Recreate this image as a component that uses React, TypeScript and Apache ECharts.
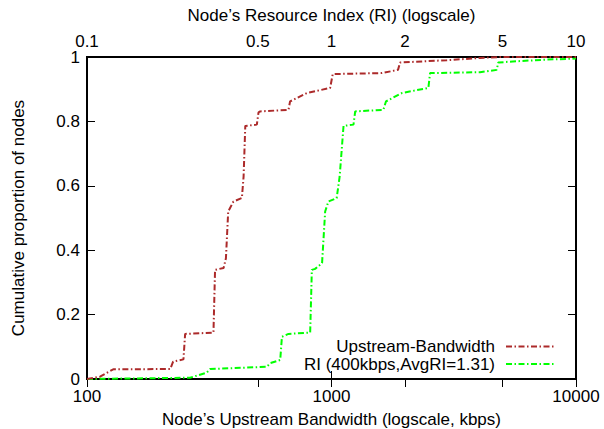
import React, { useEffect, useRef } from "react";
import * as echarts from "echarts";

// Empirical CDF of node upstream bandwidth (kbps) — polyline vertices
const bandwidthKbps = [
  100, 113, 128, 219, 225, 248, 252, 329, 334, 362, 370, 378, 397, 430, 437,
  444, 495, 503, 511, 667, 677, 793, 987, 1012, 1606, 1871, 1907, 2960, 4050,
  4890, 10000,
];
const bandwidthCdf = [
  0, 0.007, 0.03, 0.031, 0.054, 0.061, 0.14, 0.144, 0.339, 0.345, 0.375, 0.52,
  0.551, 0.562, 0.629, 0.786, 0.79, 0.828, 0.831, 0.836, 0.862, 0.888, 0.904,
  0.947, 0.95, 0.96, 0.983, 0.99, 0.997, 1, 1,
];

// Empirical CDF of the resource index (RI)
const resourceIndex = [
  0.1, 0.264, 0.309, 0.319, 0.544, 0.561, 0.617, 0.627, 0.667, 0.818, 0.831,
  0.857, 0.915, 0.942, 0.971, 1.05, 1.08, 1.12, 1.23, 1.25, 1.63, 1.67, 1.94,
  2.49, 2.53, 4.05, 4.74, 4.81, 5.52, 7.59, 10,
];
const resourceCdf = [
  0, 0.004, 0.02, 0.031, 0.038, 0.049, 0.059, 0.131, 0.14, 0.144, 0.339,
  0.342, 0.36, 0.52, 0.551, 0.562, 0.629, 0.786, 0.79, 0.831, 0.836, 0.862,
  0.888, 0.904, 0.95, 0.953, 0.96, 0.983, 0.986, 0.992, 0.995,
];

const riTicks = [0.1, 0.5, 1, 2, 5, 10];
const seriesNames = ["Upstream-Bandwidth", "RI (400kbps,AvgRI=1.31)"];
const seriesColors = ["#ac2a2a", "#00ff00"];

const FONT = "Liberation Sans, Arial, Helvetica, sans-serif";
const FONT_SIZE = 17;
const DASH = [6, 2.5, 1.5, 2.5];

export default function App() {
  const ref = useRef<HTMLDivElement>(null);

  useEffect(() => {
    if (!ref.current) return;
    const chart = echarts.init(ref.current, null, { renderer: "svg" });

    const textStyle = { color: "#000", fontFamily: FONT, fontSize: FONT_SIZE };
    const tickIn = { show: true, inside: true, length: 8, lineStyle: { color: "#000", width: 1 } };
    const plain = (v: number) => String(v);

    const legendY = [346.5, 364];

    chart.setOption({
      animation: false,
      backgroundColor: "#fff",
      grid: {
        left: 87,
        right: 28,
        top: 57,
        bottom: 50,
        outerBoundsMode: "none",
        show: true,
        borderColor: "#000",
        borderWidth: 2,
        backgroundColor: "transparent",
      },
      xAxis: [
        {
          type: "log",
          logBase: 10,
          min: 100,
          max: 10000,
          position: "bottom",
          axisLine: { show: false },
          axisTick: tickIn,
          minorTick: { show: false },
          splitLine: { show: false },
          axisLabel: { ...textStyle, margin: 9, formatter: plain },
          name: "Node\u2019s Upstream Bandwidth (logscale, kbps)",
          nameLocation: "middle",
          nameGap: 32,
          nameTextStyle: textStyle,
        },
        {
          type: "log",
          logBase: 10,
          min: 0.1,
          max: 10,
          position: "top",
          axisLine: { show: false },
          axisTick: { ...tickIn, customValues: riTicks },
          minorTick: { show: false },
          splitLine: { show: false },
          axisLabel: { ...textStyle, margin: 7, customValues: riTicks, formatter: plain },
          name: "Node\u2019s Resource Index (RI) (logscale)",
          nameLocation: "middle",
          nameGap: 33,
          nameTextStyle: textStyle,
        },
      ],
      yAxis: [
        {
          type: "value",
          min: 0,
          max: 1,
          interval: 0.2,
          position: "left",
          axisLine: { show: false },
          axisTick: tickIn,
          splitLine: { show: false },
          axisLabel: { ...textStyle, margin: 7 },
          name: "Cumulative proportion of nodes",
          nameLocation: "middle",
          nameGap: 60,
          nameTextStyle: textStyle,
        },
        {
          type: "value",
          min: 0,
          max: 1,
          interval: 0.2,
          position: "right",
          axisLine: { show: false },
          axisTick: tickIn,
          splitLine: { show: false },
          axisLabel: { show: false },
        },
      ],
      series: [
        {
          name: seriesNames[0],
          type: "line",
          xAxisIndex: 0,
          yAxisIndex: 0,
          showSymbol: false,
          symbol: "none",
          data: bandwidthKbps.map((x, i) => [x, bandwidthCdf[i]]),
          lineStyle: { color: seriesColors[0], width: 2, type: DASH },
          z: 3,
        },
        {
          name: seriesNames[1],
          type: "line",
          xAxisIndex: 1,
          yAxisIndex: 0,
          showSymbol: false,
          symbol: "none",
          data: resourceIndex.map((x, i) => [x, resourceCdf[i]]),
          lineStyle: { color: seriesColors[1], width: 2, type: DASH },
          z: 2,
        },
      ],
      graphic: seriesNames.flatMap((name, i) => [
        {
          type: "text",
          x: 495,
          y: legendY[i],
          style: {
            text: name,
            align: "right",
            verticalAlign: "middle",
            fill: "#000",
            font: `${FONT_SIZE}px ${FONT}`,
          },
        },
        {
          type: "line",
          shape: { x1: 506, y1: legendY[i], x2: 555, y2: legendY[i] },
          style: { stroke: seriesColors[i], lineWidth: 2, lineDash: DASH },
        },
      ]),
    });

    return () => chart.dispose();
  }, []);

  return (
    <div
      ref={ref}
      style={{ position: "fixed", left: 0, top: 0, width: 604, height: 429 }}
    />
  );
}
